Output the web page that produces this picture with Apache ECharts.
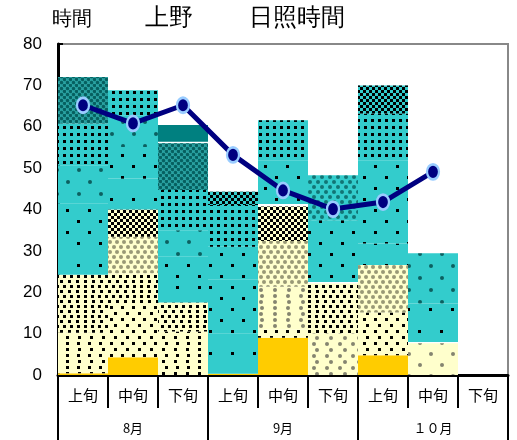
<!DOCTYPE html>
<html><head><meta charset="utf-8">
<script src="https://cdn.jsdelivr.net/npm/echarts@6/dist/echarts.min.js"></script>
<style>html,body{margin:0;padding:0;background:#fff}#c{width:517px;height:440px}</style>
</head><body><div id="c"></div>
<script>
// ---- data ----
const categories = ['上旬','中旬','下旬','上旬','中旬','下旬','上旬','中旬','下旬'];
const months = ['8月','9月','１０月'];
const yTickValues = [0,10,20,30,40,50,60,70,80];
const sunshineLine = [65.2, 60.8, 65.2, 53.2, 44.6, 40.1, 41.8, 49.1, null];

// stacked segment heights (hours), bottom to top, per bar
const seg_aug_early = [0.4, 9.8, 14.0, 5.5, 11.8, 9.2, 10.1, 11.2];
const seg_aug_mid   = [4.3, 13.1, 7.2, 8.8, 6.6, 7.5, 7.6, 7.7, 6.0];
const seg_aug_late  = [10.5, 7.0, 5.0, 6.1, 6.4, 9.7, 11.3, 0.4, 4.0];
const seg_sep_early = [0.3, 9.8, 12.9, 8.0, 10.1, 3.2];
const seg_sep_mid   = [9.0, 2.0, 10.3, 11.1, 8.3, 0.6, 10.6, 9.7];
const seg_sep_late  = [10.1, 12.0, 0.4, 14.9, 10.9];
const seg_oct_early = [4.8, 10.3, 11.5, 5.2, 20.1, 11.3, 6.8];
const seg_oct_mid   = [7.7, 0.3, 9.3, 12.1];
const seg_oct_late  = [];

// fill kind of each segment (style keys)
const fill_aug_early = ['gold','lyS','lyD','cyP','cyS','cyB','cyD','xh'];
const fill_aug_mid   = ['gold','lyS','lyD','lyB','lyC','cyP','cyS','cyB','cyD'];
const fill_aug_late  = ['lyS','lyD','cyP','cyS','cyB','cyD','xh','gap','teal'];
const fill_sep_early = ['gold','cyP','cyS','cyS','cyD','cyC'];
const fill_sep_mid   = ['gold','lyS','lyB2','lyB','lyC','gap','cyS','cyD'];
const fill_sep_late  = ['lyB2','lyD','gap','cyS','cyBd'];
const fill_oct_early = ['gold','lyS','lyB','cyP','cyS','cyD','cyC'];
const fill_oct_mid   = ['lyB3','gap','cyP','cyB'];
const fill_oct_late  = [];

// ---- styles ----
const LY = '#FFFFCC', CY = '#33CCCC';
function dec(o){ return Object.assign({symbol:'rect', symbolSize:1, color:'#000', rotation:0}, o); }
const styleDefs = {
  gold: () => ({color:'#FFCC00'}),
  teal: () => ({color:'#008080'}),
  gap:  () => ({color:'rgba(0,0,0,0)'}),
  lyS:  () => ({color:LY, decal:dec({dashArrayX:[[3,8],[0,5.5,3,2.5]], dashArrayY:[3,3]})}),
  lyD:  () => ({color:LY, decal:dec({dashArrayX:[[3,3.5],[0,3.2,3,0.3]], dashArrayY:[3,1.8]})}),
  lyC:  () => ({color:LY, decal:dec({dashArrayX:[[3,3],[0,3,3,0]], dashArrayY:[3,0]})}),
  lyB:  () => ({color:LY, decal:dec({symbol:'circle', color:'rgba(70,70,50,0.55)', dashArrayX:[[3.5,2.5],[0,3,3.5,-0.5+0.5]], dashArrayY:[3.5,1]})}),
  lyB2: () => ({color:LY, decal:dec({symbol:'circle', color:'rgba(50,50,50,0.6)', dashArrayX:[[4,9],[0,6.5,4,2.5]], dashArrayY:[4,2]})}),
  lyB3: () => ({color:LY, decal:dec({symbol:'circle', color:'rgba(50,50,50,0.6)', dashArrayX:[[4,18],[0,11,4,7]], dashArrayY:[4,7]})}),
  cyP:  () => ({color:CY, decal:dec({dashArrayX:[[3,19],[0,11,3,8]], dashArrayY:[3,19]})}),
  cyS:  () => ({color:CY, decal:dec({dashArrayX:[[3,19],[0,11,3,8]], dashArrayY:[3,8]})}),
  cyB:  () => ({color:CY, decal:dec({symbol:'circle', color:'rgba(0,60,60,0.75)', dashArrayX:[[4,18],[0,11,4,7]], dashArrayY:[4,7.5]})}),
  cyBd: () => ({color:CY, decal:dec({symbol:'circle', color:'rgba(0,70,70,0.65)', dashArrayX:[[3.5,3.5],[0,3.5,3.5,0]], dashArrayY:[3.5,0.5]})}),
  cyD:  () => ({color:CY, decal:dec({dashArrayX:[3,3.5], dashArrayY:[3,3.5]})}),
  cyC:  () => ({color:CY, decal:dec({dashArrayX:[[3,3],[0,3,3,0]], dashArrayY:[3,0]})}),
  xh:   () => ({color:'#2aa3a3', decal:dec({symbol:'circle', symbolSize:1.15, color:'rgba(0,85,85,0.85)', dashArrayX:[[3,3],[0,3,3,0]], dashArrayY:[3,0]})})
};

const segs  = [seg_aug_early, seg_aug_mid, seg_aug_late, seg_sep_early, seg_sep_mid, seg_sep_late, seg_oct_early, seg_oct_mid, seg_oct_late];
const fills = [fill_aug_early, fill_aug_mid, fill_aug_late, fill_sep_early, fill_sep_mid, fill_sep_late, fill_oct_early, fill_oct_mid, fill_oct_late];
const nLayers = Math.max(...segs.map(s => s.length));

const series = [];
for (let L = 0; L < nLayers; L++) {
  series.push({
    type:'bar', stack:'sun', barCategoryGap:'0%', silent:true, animation:false,
    data: segs.map((s, c) => L < s.length ? {value:s[L], itemStyle: styleDefs[fills[c][L]]()} : '-')
  });
}
series.push({
  type:'line', data: sunshineLine, z:10, animation:false, silent:true,
  lineStyle:{color:'#000080', width:5},
  symbol:'circle', symbolSize:[12,15],
  itemStyle:{color:'#000080', borderColor:'#99CCFF', borderWidth:2.5}
});

const chart = echarts.init(document.getElementById('c'));
chart.setOption({
  animation:false,
  textStyle:{fontFamily:'"Liberation Sans", "Noto Sans CJK JP", sans-serif'},
  graphic:[
    {type:'text', left:52, top:9, style:{text:'時間', fontSize:20, fill:'#000', font:'20px "Noto Sans CJK JP"'}},
    {type:'text', left:145, top:6, style:{text:'上野', fontSize:24, fill:'#000', font:'24px "Noto Sans CJK JP"'}},
    {type:'text', left:249, top:6, style:{text:'日照時間', fontSize:24, fill:'#000', font:'24px "Noto Sans CJK JP"'}}
  ],
  grid:{left:58, right:9, top:44, bottom:65, show:true, borderColor:'#888', borderWidth:2, backgroundColor:'#fff'},
  xAxis:[
    {type:'category', data:categories, position:'bottom',
     axisLine:{lineStyle:{color:'#000', width:3}},
     axisTick:{show:true, interval:0, length:33, lineStyle:{color:'#000', width:2}},
     axisLabel:{interval:0, margin:13, fontSize:15, color:'#000', fontFamily:'"Noto Sans CJK JP"'}},
    {type:'category', data:months, position:'bottom', offset:33,
     axisLine:{show:false},
     axisTick:{show:true, interval:0, length:33, lineStyle:{color:'#000', width:2}},
     axisLabel:{interval:0, margin:14, fontSize:13, color:'#000', fontFamily:'"Noto Sans CJK JP"'}}
  ],
  yAxis:{type:'value', min:yTickValues[0], max:yTickValues[yTickValues.length-1], interval:10,
     axisLine:{show:true, lineStyle:{color:'#000', width:3}},
     axisTick:{show:true, inside:true, length:5, lineStyle:{color:'#000', width:2}},
     splitLine:{show:false},
     axisLabel:{fontSize:17, color:'#000', margin:16, fontFamily:'"Liberation Sans"'}},
  series: series
});
</script></body></html>
